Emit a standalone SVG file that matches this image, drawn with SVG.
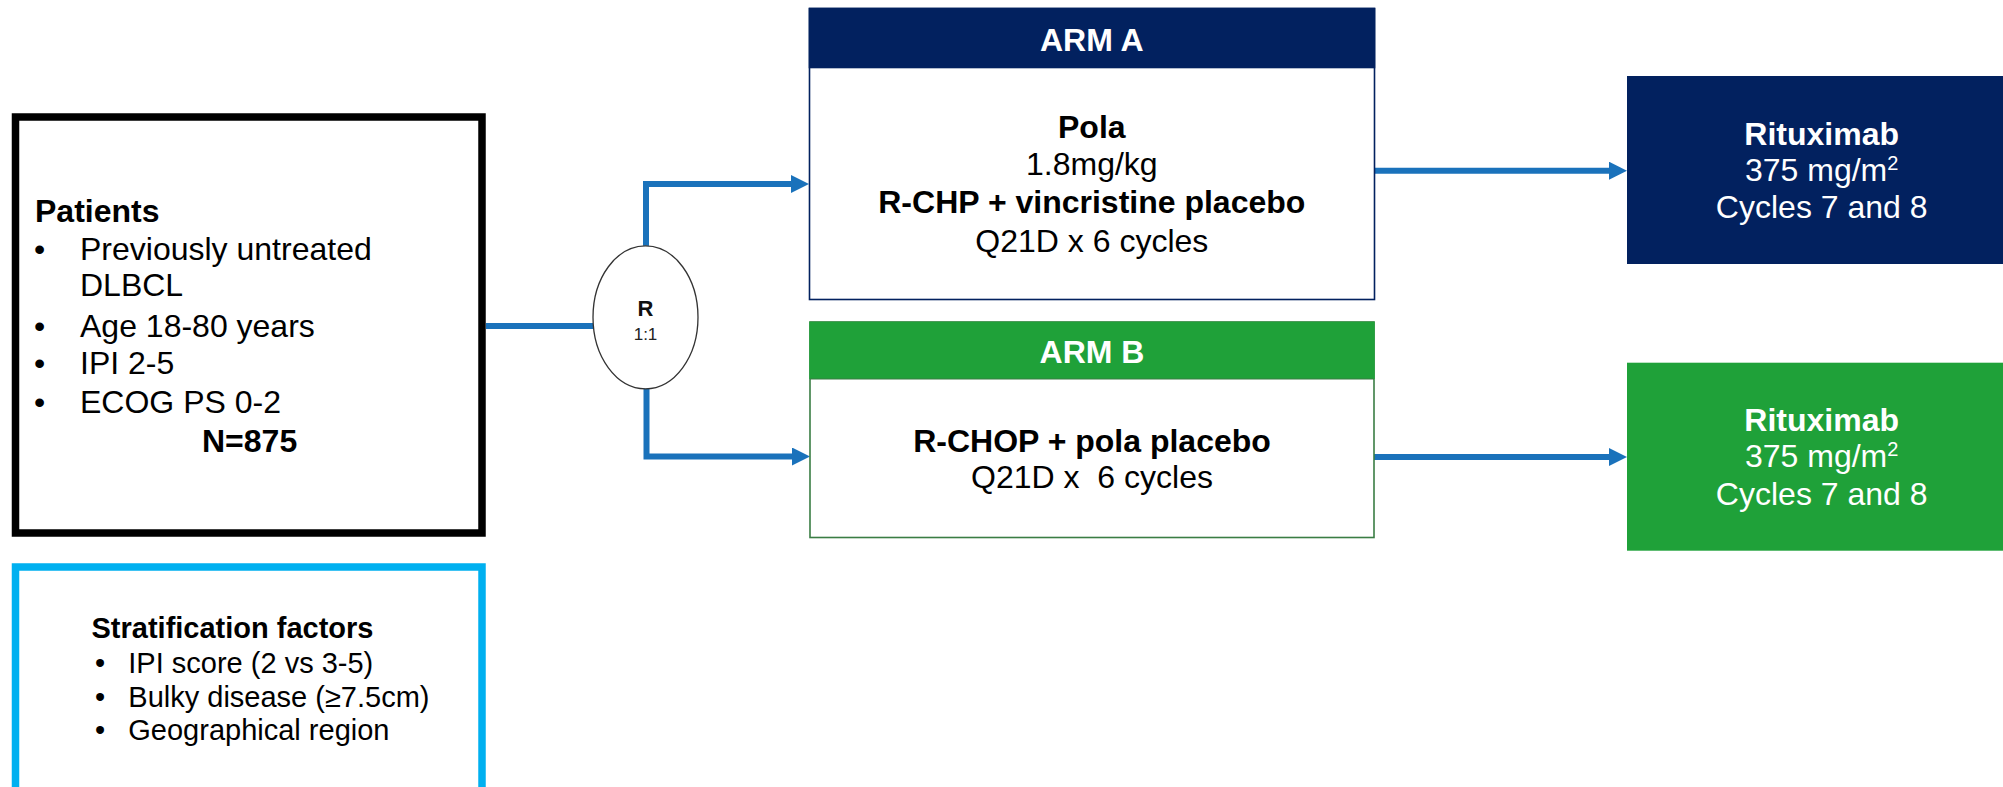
<svg xmlns="http://www.w3.org/2000/svg" width="2003" height="787" viewBox="0 0 2003 787">
<defs>
<style>
text{font-family:"Liberation Sans",Arial,Helvetica,sans-serif;}
.b{font-weight:bold;}
.t32{font-size:32px;fill:#000;}
.t29{font-size:29px;fill:#000;}
.w{fill:#fff;}
.c{text-anchor:middle;}
.conn{fill:none;stroke:#1A72BB;stroke-width:6;stroke-linejoin:miter;}
.navy{fill:#02215F;}
.green{fill:#1FA139;}
</style>
<marker id="ah" markerUnits="userSpaceOnUse" viewBox="0 0 18 18" markerWidth="18" markerHeight="18" refX="0" refY="9" orient="auto">
<path d="M0,0 L18,9 L0,18 Z" fill="#1A72BB"/>
</marker>
</defs>
<rect x="0" y="0" width="2003" height="787" fill="#fff"/>

<g id="connectors">
<path class="conn" d="M486,326 H593"/>
<path class="conn" d="M646,246 V184 H791" marker-end="url(#ah)"/>
<path class="conn" d="M646.5,388 V456.5 H792" marker-end="url(#ah)"/>
<path class="conn" d="M1374,170.7 H1609" marker-end="url(#ah)"/>
<path class="conn" d="M1374,457 H1609" marker-end="url(#ah)"/>
</g>

<g id="patients">
<rect x="15.5" y="117" width="466.5" height="416" fill="#fff" stroke="#000" stroke-width="7.5"/>
<text class="t32 b" x="35" y="221.7">Patients</text>
<text class="t32" x="34" y="260">•</text>
<text class="t32" x="80" y="260">Previously untreated</text>
<text class="t32" x="80" y="296">DLBCL</text>
<text class="t32" x="34" y="337">•</text>
<text class="t32" x="80" y="337">Age 18-80 years</text>
<text class="t32" x="34" y="374">•</text>
<text class="t32" x="80" y="374">IPI 2-5</text>
<text class="t32" x="34" y="413">•</text>
<text class="t32" x="80" y="413">ECOG PS 0-2</text>
<text class="t32 b" x="202" y="451.7">N=875</text>
</g>

<g id="stratification">
<rect x="15.5" y="567" width="466.5" height="240" fill="#fff" stroke="#00B0F0" stroke-width="7.5"/>
<text class="t29 b" x="91.5" y="638.3">Stratification factors</text>
<text class="t29" x="95" y="673.3">•</text>
<text class="t29" x="128.3" y="673.3">IPI score (2 vs 3-5)</text>
<text class="t29" x="95" y="706.7">•</text>
<text class="t29" x="128.3" y="706.7">Bulky disease (≥7.5cm)</text>
<text class="t29" x="95" y="740">•</text>
<text class="t29" x="128.3" y="740">Geographical region</text>
</g>

<g id="randomisation">
<ellipse cx="645.5" cy="317.3" rx="52.5" ry="71.5" fill="#fff" stroke="#333" stroke-width="1.3"/>
<text class="b c" x="645.5" y="316" font-size="22" fill="#111">R</text>
<text class="c" x="645.5" y="340" font-size="17" fill="#222">1:1</text>
</g>

<g id="armA">
<rect x="809.5" y="8.5" width="565" height="291" fill="#fff" stroke="#02215F" stroke-width="1.6"/>
<rect class="navy" x="808.7" y="7.8" width="566.6" height="60.5"/>
<text class="t32 b c w" x="1091.8" y="50.7">ARM A</text>
<text class="t32 b c" x="1091.8" y="138.3">Pola</text>
<text class="t32 c" x="1091.8" y="175">1.8mg/kg</text>
<text class="t32 b c" x="1091.8" y="212.7">R-CHP + vincristine placebo</text>
<text class="t32 c" x="1091.8" y="251.7">Q21D x 6 cycles</text>
</g>

<g id="armB">
<rect x="810" y="322" width="564" height="215.5" fill="#fff" stroke="#3A7D44" stroke-width="1.6"/>
<rect class="green" x="809.3" y="321.7" width="565.4" height="57.3"/>
<line x1="810" y1="379" x2="1374" y2="379" stroke="#3A7D44" stroke-width="1.2"/>
<text class="t32 b c w" x="1092" y="363.3">ARM B</text>
<text class="t32 b c" x="1092" y="451.7">R-CHOP + pola placebo</text>
<text class="t32 c" x="1092" y="488.3" xml:space="preserve">Q21D x  6 cycles</text>
</g>

<g id="rituximabA">
<rect class="navy" x="1627" y="76" width="390" height="188"/>
<text class="t32 b c w" x="1821.7" y="145">Rituximab</text>
<text class="t32 c w" x="1821.7" y="180.7">375 mg/m<tspan font-size="20" dy="-11">2</tspan></text>
<text class="t32 c w" x="1821.7" y="218.3">Cycles 7 and 8</text>
</g>

<g id="rituximabB">
<rect class="green" x="1627" y="362.7" width="390" height="188"/>
<text class="t32 b c w" x="1821.7" y="430.7">Rituximab</text>
<text class="t32 c w" x="1821.7" y="467.3">375 mg/m<tspan font-size="20" dy="-11">2</tspan></text>
<text class="t32 c w" x="1821.7" y="505">Cycles 7 and 8</text>
</g>
</svg>
